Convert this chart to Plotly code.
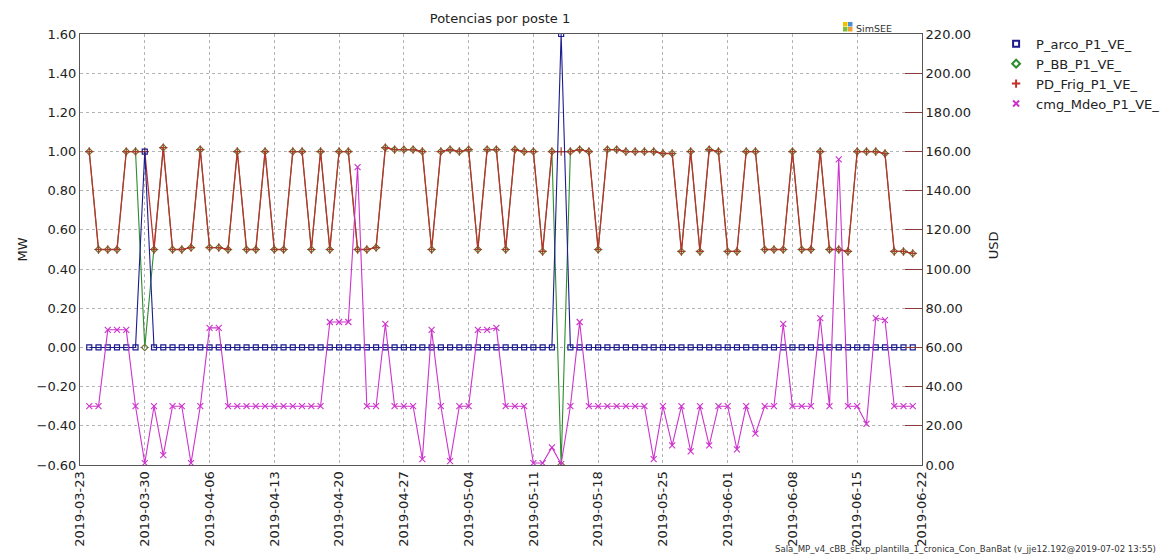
import plotly.graph_objects as go
import pandas as pd

# ---------------- data ----------------
dates = pd.date_range("2019-03-24", periods=90, freq="D").strftime("%Y-%m-%d").tolist()

pd_frig = [1.00, 0.50, 0.50, 0.50, 1.00, 1.00, 1.00, 0.50, 1.02, 0.50,
           0.50, 0.51, 1.01, 0.51, 0.51, 0.50, 1.00, 0.50, 0.50, 1.00,
           0.50, 0.50, 1.00, 1.00, 0.50, 1.00, 0.50, 1.00, 1.00, 0.50,
           0.50, 0.51, 1.02, 1.01, 1.01, 1.01, 1.00, 0.50, 1.00, 1.01,
           1.00, 1.01, 0.50, 1.01, 1.01, 0.50, 1.01, 1.00, 1.00, 0.49,
           1.00, 1.00, 1.00, 1.01, 1.00, 0.50, 1.01, 1.01, 1.00, 1.00,
           1.00, 1.00, 0.99, 0.99, 0.49, 1.00, 0.49, 1.01, 1.00, 0.49,
           0.49, 1.00, 1.00, 0.50, 0.50, 0.50, 1.00, 0.50, 0.50, 1.00,
           0.50, 0.50, 0.49, 1.00, 1.00, 1.00, 0.99, 0.49, 0.49, 0.48]

p_bb = [1.00, 0.50, 0.50, 0.50, 1.00, 1.00, 0.00, 0.50, 1.02, 0.50,
        0.50, 0.51, 1.01, 0.51, 0.51, 0.50, 1.00, 0.50, 0.50, 1.00,
        0.50, 0.50, 1.00, 1.00, 0.50, 1.00, 0.50, 1.00, 1.00, 0.50,
        0.50, 0.51, 1.02, 1.01, 1.01, 1.01, 1.00, 0.50, 1.00, 1.01,
        1.00, 1.01, 0.50, 1.01, 1.01, 0.50, 1.01, 1.00, 1.00, 0.49,
        1.00, -0.60, 1.00, 1.01, 1.00, 0.50, 1.01, 1.01, 1.00, 1.00,
        1.00, 1.00, 0.99, 0.99, 0.49, 1.00, 0.49, 1.01, 1.00, 0.49,
        0.49, 1.00, 1.00, 0.50, 0.50, 0.50, 1.00, 0.50, 0.50, 1.00,
        0.50, 0.50, 0.49, 1.00, 1.00, 1.00, 0.99, 0.49, 0.49, 0.48]

p_arco = [0.0] * 6 + [1.0] + [0.0] * 44 + [1.6] + [0.0] * 38

cmg_mdeo = [30, 30, 69, 69, 69, 30, 1, 30, 5, 30,
            30, 1, 30, 70, 70, 30, 30, 30, 30, 30,
            30, 30, 30, 30, 30, 30, 73, 73, 73, 152,
            30, 30, 72, 30, 30, 30, 3, 69, 30, 2,
            30, 30, 69, 69, 70, 30, 30, 30, 1, 1,
            9, 0.5, 30, 73, 30, 30, 30, 30, 30, 30,
            30, 3, 30, 10, 30, 7, 30, 10, 30, 30,
            8, 30, 16, 30, 30, 72, 30, 30, 30, 75,
            30, 156, 30, 30, 21, 75, 74, 30, 30, 30]

x_ticks = pd.date_range("2019-03-23", "2019-06-22", freq="7D").strftime("%Y-%m-%d").tolist()
left_ticks = [-0.6 + 0.2 * i for i in range(12)]
right_ticks = [20 * i for i in range(12)]

names = ["P_arco_P1_VE_", "P_BB_P1_VE_", "PD_Frig_P1_VE_", "cmg_Mdeo_P1_VE_"]

FONT = "DejaVu Sans"
C_ARCO = "#1c1c8e"
C_BB = "#2e8b2e"
C_FRIG = "#c0302c"
C_CMG = "#cc33cc"

fig = go.Figure()

fig.add_trace(go.Scatter(
    x=dates, y=cmg_mdeo, yaxis="y2", mode="lines+markers", name=names[3],
    showlegend=False,
    line=dict(color=C_CMG, width=1.1),
    marker=dict(symbol="x-thin", size=6, line=dict(color=C_CMG, width=1.1))))

fig.add_trace(go.Scatter(
    x=dates, y=p_bb, mode="lines+markers", name=names[1], showlegend=False,
    line=dict(color=C_BB, width=1.1),
    marker=dict(symbol="diamond-open", size=5, color="#6b6b2a", line=dict(width=1.1))))

fig.add_trace(go.Scatter(
    x=dates, y=pd_frig, mode="lines+markers", name=names[2], showlegend=False,
    line=dict(color=C_FRIG, width=1.3),
    marker=dict(symbol="cross-thin", size=6, line=dict(color="#a0402a", width=1.2))))

fig.add_trace(go.Scatter(
    x=dates, y=p_arco, mode="lines+markers", name=names[0], showlegend=False,
    line=dict(color=C_ARCO, width=1.1),
    marker=dict(symbol="square-open", size=5, color=C_ARCO, line=dict(width=1.2))))

# legend-only entries (markers only, as in the original)
leg = [(names[0], "square-open", C_ARCO), (names[1], "diamond-open", C_BB),
       (names[2], "cross-thin", C_FRIG), (names[3], "x-thin", C_CMG)]
for nm, sym, col in leg:
    fig.add_trace(go.Scatter(
        x=[None], y=[None], mode="markers", name=nm, showlegend=True,
        marker=dict(symbol=sym, size=6, color=col, line=dict(color=col, width=2))))

grid = dict(showgrid=True, gridcolor="#b4b4b4", gridwidth=1, griddash="dot")

fig.update_layout(
    width=1160, height=556,
    margin=dict(l=80, r=238, t=34, b=91, autoexpand=False),
    paper_bgcolor="white", plot_bgcolor="white",
    font=dict(family=FONT, size=13, color="#222222"),
    title=dict(text="Potencias por poste 1", x=(500 / 1160), xanchor="center",
               y=1 - 18 / 556, yanchor="middle", font=dict(size=13, color="#222222")),
    xaxis=dict(type="date", range=["2019-03-23", "2019-06-22"],
               tickvals=x_ticks, ticktext=x_ticks, tickangle=-90,
               showline=True, linecolor="#555555", linewidth=1, mirror=True,
               ticks="", zeroline=False, **grid),
    yaxis=dict(range=[-0.6, 1.6], tickvals=left_ticks, tickformat=".2f",
               showline=True, linecolor="#555555", linewidth=1, mirror=True,
               ticks="", zeroline=False, **grid),
    yaxis2=dict(range=[0, 220], tickvals=right_ticks, tickformat=".2f",
                overlaying="y", side="right", showgrid=False, zeroline=False,
                showline=True, linecolor="#555555", linewidth=1,
                ticks="inside", ticklen=17, tickcolor="#8b3a3a", tickwidth=1),
    legend=dict(x=1.088, y=1.012, xanchor="left", yanchor="top",
                bgcolor="rgba(0,0,0,0)", font=dict(size=13, color="#222222"),
                itemwidth=30, tracegroupgap=0),
    showlegend=True,
)

# axis titles
fig.add_annotation(text="MW", xref="paper", yref="paper", x=(22 - 80) / 842, y=0.5,
                   textangle=-90, showarrow=False, font=dict(size=13, color="#222222"),
                   xanchor="center", yanchor="middle")
fig.add_annotation(text="USD", xref="paper", yref="paper", x=(993 - 80) / 842, y=0.51,
                   textangle=-90, showarrow=False, font=dict(size=13, color="#222222"),
                   xanchor="center", yanchor="middle")

# SimSEE logo
logo_cols = [("#f2c200", 843, 22), ("#4a90d9", 848, 22), ("#7cbf3a", 843, 27), ("#f0a030", 848, 27)]
for col, px, py in logo_cols:
    fig.add_shape(type="rect", xref="paper", yref="paper",
                  x0=(px - 80) / 842, x1=(px + 4.5 - 80) / 842,
                  y0=(465 - py - 4.5) / 431, y1=(465 - py) / 431,
                  fillcolor=col, line=dict(width=0))
fig.add_annotation(text="SimSEE", xref="paper", yref="paper", x=(854 - 80) / 842,
                   y=(465 - 29) / 431, xanchor="left", yanchor="middle", showarrow=False,
                   font=dict(size=9.5, color="#333333"))

# footer
fig.add_annotation(text="Sala_MP_v4_cBB_sExp_plantilla_1_cronica_Con_BanBat (v_jje12.192@2019-07-02 13:55)",
                   xref="paper", yref="paper", x=(1158 - 80) / 842, y=(465 - 549) / 431,
                   xanchor="right", yanchor="middle", showarrow=False,
                   font=dict(size=8.6, color="#333333"))

fig.write_html("out.html")
